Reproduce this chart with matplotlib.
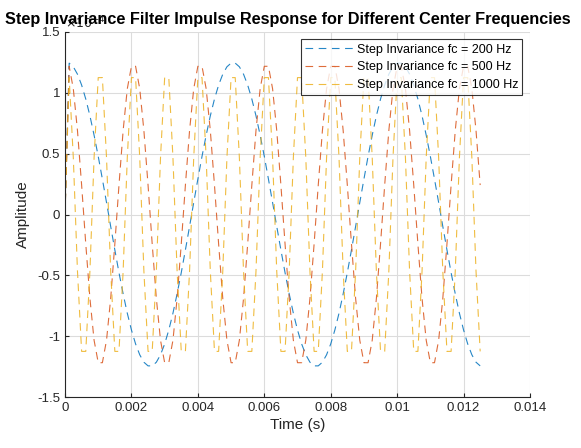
import numpy as np
import matplotlib
matplotlib.use('Agg')
import matplotlib.pyplot as plt
from matplotlib.ticker import FuncFormatter

plt.rcParams['font.family'] = ['Liberation Sans', 'DejaVu Sans']
plt.rcParams['axes.unicode_minus'] = False
plt.rcParams['lines.scale_dashes'] = False

# sample index and sample rate (t = n / fs)
fs = 8000
n = np.arange(101)

# impulse responses, in units of 1e-4
h_200 = [0.0,
         1.244, 1.214, 1.153, 1.064, 0.949, 0.811, 0.652, 0.478, 0.291, 0.098,
         -0.098, -0.291, -0.478, -0.652, -0.811, -0.949, -1.064, -1.153, -1.214, -1.244,
         -1.244, -1.214, -1.153, -1.064, -0.949, -0.811, -0.652, -0.478, -0.291, -0.098,
         0.098, 0.291, 0.478, 0.652, 0.811, 0.949, 1.064, 1.153, 1.214, 1.244,
         1.244, 1.214, 1.153, 1.064, 0.949, 0.811, 0.652, 0.478, 0.291, 0.098,
         -0.098, -0.291, -0.478, -0.652, -0.811, -0.949, -1.064, -1.153, -1.214, -1.244,
         -1.244, -1.214, -1.153, -1.064, -0.949, -0.811, -0.652, -0.478, -0.291, -0.098,
         0.098, 0.291, 0.478, 0.652, 0.811, 0.949, 1.064, 1.153, 1.214, 1.244,
         1.244, 1.214, 1.153, 1.064, 0.949, 0.811, 0.652, 0.478, 0.291, 0.098,
         -0.098, -0.291, -0.478, -0.652, -0.811, -0.949, -1.064, -1.153, -1.214, -1.244]

h_500 = [0.0,
         1.218, 1.033, 0.690, 0.242, -0.242, -0.690, -1.033, -1.218,
         -1.218, -1.033, -0.690, -0.242, 0.242, 0.690, 1.033, 1.218,
         1.218, 1.033, 0.690, 0.242, -0.242, -0.690, -1.033, -1.218,
         -1.218, -1.033, -0.690, -0.242, 0.242, 0.690, 1.033, 1.218,
         1.218, 1.033, 0.690, 0.242, -0.242, -0.690, -1.033, -1.218,
         -1.218, -1.033, -0.690, -0.242, 0.242, 0.690, 1.033, 1.218,
         1.218, 1.033, 0.690, 0.242, -0.242, -0.690, -1.033, -1.218,
         -1.218, -1.033, -0.690, -0.242, 0.242, 0.690, 1.033, 1.218,
         1.218, 1.033, 0.690, 0.242, -0.242, -0.690, -1.033, -1.218,
         -1.218, -1.033, -0.690, -0.242, 0.242, 0.690, 1.033, 1.218,
         1.218, 1.033, 0.690, 0.242, -0.242, -0.690, -1.033, -1.218,
         -1.218, -1.033, -0.690, -0.242, 0.242, 0.690, 1.033, 1.218,
         1.218, 1.033, 0.690, 0.242]

h_1000 = [0.0,
          1.125, 0.466, -0.466, -1.125, -1.125, -0.466, 0.466, 1.125,
          1.125, 0.466, -0.466, -1.125, -1.125, -0.466, 0.466, 1.125,
          1.125, 0.466, -0.466, -1.125, -1.125, -0.466, 0.466, 1.125,
          1.125, 0.466, -0.466, -1.125, -1.125, -0.466, 0.466, 1.125,
          1.125, 0.466, -0.466, -1.125, -1.125, -0.466, 0.466, 1.125,
          1.125, 0.466, -0.466, -1.125, -1.125, -0.466, 0.466, 1.125,
          1.125, 0.466, -0.466, -1.125, -1.125, -0.466, 0.466, 1.125,
          1.125, 0.466, -0.466, -1.125, -1.125, -0.466, 0.466, 1.125,
          1.125, 0.466, -0.466, -1.125, -1.125, -0.466, 0.466, 1.125,
          1.125, 0.466, -0.466, -1.125, -1.125, -0.466, 0.466, 1.125,
          1.125, 0.466, -0.466, -1.125, -1.125, -0.466, 0.466, 1.125,
          1.125, 0.466, -0.466, -1.125, -1.125, -0.466, 0.466, 1.125,
          1.125, 0.466, -0.466, -1.125]

labels = ['Step Invariance fc = 200 Hz', 'Step Invariance fc = 500 Hz',
          'Step Invariance fc = 1000 Hz']
colors = ['#0072BD', '#D95319', '#EDB120']

t = n / fs

fig = plt.figure(figsize=(5.81, 4.48), dpi=100)
ax = fig.add_axes([0.1119, 0.1138, 0.8003, 0.8148])

for y, lab, c in zip([h_200, h_500, h_1000], labels, colors):
    ax.plot(t, y, color=c, linewidth=0.8, linestyle=(0, (5.5, 4)),
            alpha=0.85, label=lab)

ax.set_xlim(0, 0.014)
ax.set_ylim(-1.5, 1.5)
ax.set_xticks(np.arange(0, 0.0141, 0.002))
ax.set_yticks(np.arange(-1.5, 1.51, 0.5))
fmt = FuncFormatter(lambda v, p: '%g' % round(v, 6))
ax.xaxis.set_major_formatter(fmt)
ax.yaxis.set_major_formatter(fmt)

ax.grid(True, color='#dcdcdc', linewidth=0.8)
ax.set_axisbelow(True)
for s in ['top', 'right']:
    ax.spines[s].set_visible(False)
for s in ['left', 'bottom']:
    ax.spines[s].set_color('#262626')
    ax.spines[s].set_linewidth(0.8)
ax.tick_params(direction='in', length=3, width=0.8, color='#262626',
               labelcolor='#262626', labelsize=9.5)

ax.set_xlabel('Time (s)', fontsize=11, color='#262626', labelpad=3)
ax.set_ylabel('Amplitude', fontsize=11, color='#262626', labelpad=5)
ax.text(0.0, 1.003, r'$\times 10^{-4}$', transform=ax.transAxes,
        fontsize=9, color='#262626', ha='left', va='bottom')
ax.set_title('Step Invariance Filter Impulse Response for Different Center Frequencies',
             fontsize=11.7, fontweight='bold', pad=6, x=0.48)

leg = ax.legend(loc='upper right', fontsize=9, frameon=True, fancybox=False,
                edgecolor='black', handlelength=3.8, borderaxespad=0.6,
                labelspacing=0.45, borderpad=0.35, handletextpad=0.3)
leg.get_frame().set_linewidth(0.8)

fig.savefig('out.png', dpi=100)
